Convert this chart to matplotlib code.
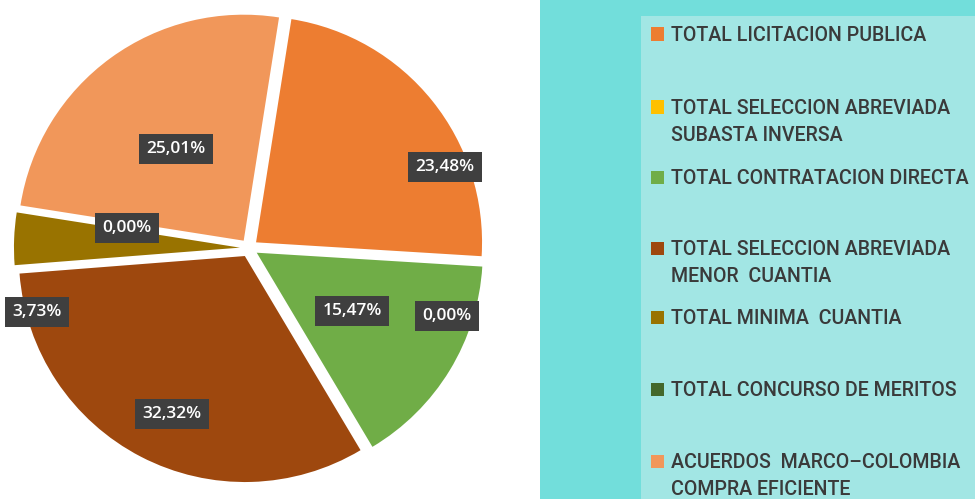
import matplotlib
matplotlib.use("Agg")
import matplotlib.pyplot as plt
from matplotlib.patches import Rectangle

# data
categories = [
    "TOTAL LICITACION PUBLICA",
    "TOTAL SELECCION ABREVIADA\nSUBASTA INVERSA",
    "TOTAL CONTRATACION DIRECTA",
    "TOTAL SELECCION ABREVIADA\nMENOR  CUANTIA",
    "TOTAL MINIMA  CUANTIA",
    "TOTAL CONCURSO DE MERITOS",
    "ACUERDOS  MARCO–COLOMBIA\nCOMPRA EFICIENTE",
]
shares = [23.48, 0.00, 15.47, 32.32, 3.73, 0.00, 25.01]
colors = ["#ED7D31", "#FFC000", "#70AD47", "#9E480E", "#997300", "#43682B", "#F1975A"]

# layout (pixels, origin top-left)
W, H = 975, 499
PIE_W = 540
CX, CY = 249, 248
R = 226
label_px = [(445, 167), (447, 316), (352, 311), (172, 414), (37, 312), (127, 228), (176, 149)]
legend_y = [34, 107, 177, 248, 317, 389, 461]
LEGEND_FONT = ["Roboto", "DejaVu Sans"]

fig = plt.figure(figsize=(W / 100, H / 100), dpi=100)
fig.patch.set_facecolor("white")

# right hand panels
fig.patches.append(Rectangle((PIE_W / W, 0), 1 - PIE_W / W, 1, transform=fig.transFigure,
                             facecolor="#72DEDB", edgecolor="none", zorder=0))
fig.patches.append(Rectangle((641 / W, 0), 1 - 641 / W, 1 - 16 / H, transform=fig.transFigure,
                             facecolor="#A2E6E4", edgecolor="none", zorder=0))

ax = fig.add_axes([0, 0, PIE_W / W, 1])
ax.pie(shares, colors=colors, startangle=81, counterclock=False, radius=1,
       explode=[0.04] * len(shares), wedgeprops=dict(linewidth=0))
ax.set_xlim(-CX / R, (PIE_W - CX) / R)
ax.set_ylim(-(H - CY) / R, CY / R)
ax.set_aspect("auto")
ax.axis("off")

for v, (px, py) in zip(shares, label_px):
    ax.text((px - CX) / R, (CY - py) / R, f"{v:.2f}".replace(".", ",") + "%",
            ha="center", va="center", color="white", fontsize=12.5, fontweight="semibold",
            family=["Open Sans", "DejaVu Sans"],
            bbox=dict(boxstyle="square,pad=0.42", facecolor="#3F3F3F", edgecolor="none"))

# size legend font so the widest line spans the same width as in the reference
renderer = fig.canvas.get_renderer()
probe = fig.text(0, 0, "TOTAL CONTRATACION DIRECTA", fontsize=15, family=LEGEND_FONT,
                 fontweight="medium")
wpx = probe.get_window_extent(renderer).width
probe.remove()
lfs = 15 * 300 / wpx

# legend
for name, col, y in zip(categories, colors, legend_y):
    fig.patches.append(Rectangle((651 / W, 1 - (y + 6.5) / H), 13 / W, 13 / H,
                                 transform=fig.transFigure, facecolor=col,
                                 edgecolor="none"))
    for i, line in enumerate(name.split("\n")):
        fig.text(671 / W, 1 - (y + 7 + i * 27) / H, line, ha="left", va="baseline",
                 fontsize=lfs, color="#3A3A3A", family=LEGEND_FONT, fontweight="medium")

fig.savefig("out.png", dpi=100)
